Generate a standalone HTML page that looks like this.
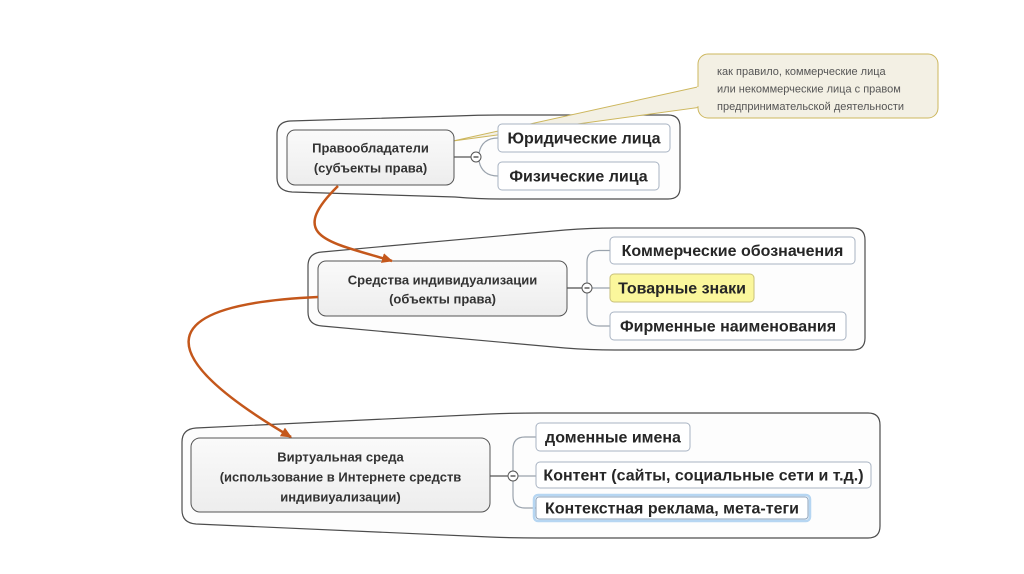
<!DOCTYPE html>
<html><head><meta charset="utf-8"><style>
html,body{margin:0;padding:0;background:#fff;}
svg{display:block;}
text{font-family:"Liberation Sans","DejaVu Sans",sans-serif;}
.pt{font-size:13px;font-weight:bold;fill:#333;}
.ct{font-size:16px;font-weight:bold;fill:#262626;}
.nt{font-size:11px;fill:#555;}
</style></head><body>
<svg width="1024" height="574" viewBox="0 0 1024 574" xmlns="http://www.w3.org/2000/svg">
<defs>
<linearGradient id="pg" x1="0" y1="0" x2="0" y2="1"><stop offset="0" stop-color="#fafafa"/><stop offset="1" stop-color="#ededed"/></linearGradient>
<marker id="ah" markerWidth="12" markerHeight="10" refX="10" refY="5" orient="auto" markerUnits="userSpaceOnUse"><path d="M0,0 L11,5 L0,10 Z" fill="#c4571b"/></marker>
</defs>
<rect width="1024" height="574" fill="#fff"/>

<!-- group outlines -->
<path d="M290,121 L455,116 Q478,115 500,115 L668,115 Q680,115 680,127 L680,188 Q680,199 668,199 L500,199 Q478,199 455,197 L292,192 Q277,191 277,178 L277,134 Q277,122 290,121 Z" fill="#fdfdfd" stroke="#4d4d4d" stroke-width="1.2"/>
<path d="M322,252 L565,230 Q590,228 615,228 L853,228 Q865,228 865,240 L865,338 Q865,350 853,350 L615,350 Q590,350 565,348 L322,326 Q308,325 308,312 L308,266 Q308,253 322,252 Z" fill="#fdfdfd" stroke="#4d4d4d" stroke-width="1.2"/>
<path d="M196,428 L490,414 Q515,413 540,413 L868,413 Q880,413 880,425 L880,526 Q880,538 868,538 L540,538 Q515,538 490,537 L196,524 Q182,523 182,510 L182,442 Q182,429 196,428 Z" fill="#fdfdfd" stroke="#4d4d4d" stroke-width="1.2"/>

<!-- callout wedge -->
<polygon points="453,141 702,86 702,107" fill="#f3f0e4" stroke="#cdb75e" stroke-width="1"/>

<!-- connectors group 1 -->
<line x1="454" y1="157" x2="471" y2="157" stroke="#555" stroke-width="1.3"/>
<path d="M479,153 Q482,138 498,138 M479,161 Q482,176 498,176" fill="none" stroke="#9aa3ad" stroke-width="1.2"/>
<circle cx="476" cy="157" r="5" fill="#fff" stroke="#555" stroke-width="1"/>
<line x1="473.5" y1="157" x2="478.5" y2="157" stroke="#333" stroke-width="1.2"/>

<!-- connectors group 2 -->
<line x1="567" y1="288" x2="582" y2="288" stroke="#555" stroke-width="1.3"/>
<path d="M610,250.5 L599,250.5 Q587,250.5 587,262 L587,314 Q587,326 599,326 L610,326 M592,288 L610,288" fill="none" stroke="#9aa3ad" stroke-width="1.2"/>
<circle cx="587" cy="288" r="5" fill="#fff" stroke="#555" stroke-width="1"/>
<line x1="584.5" y1="288" x2="589.5" y2="288" stroke="#333" stroke-width="1.2"/>

<!-- connectors group 3 -->
<line x1="490" y1="476" x2="508" y2="476" stroke="#555" stroke-width="1.3"/>
<path d="M536,437 L525,437 Q513,437 513,449 L513,496 Q513,508 525,508 L536,508 M518,476 L536,476" fill="none" stroke="#9aa3ad" stroke-width="1.2"/>
<circle cx="513" cy="476" r="5" fill="#fff" stroke="#555" stroke-width="1"/>
<line x1="510.5" y1="476" x2="515.5" y2="476" stroke="#333" stroke-width="1.2"/>

<!-- parent boxes -->
<rect x="287" y="130" width="167" height="55" rx="8" fill="url(#pg)" stroke="#555" stroke-width="1"/>
<text class="pt" x="370.5" y="152.5" text-anchor="middle">Правообладатели</text>
<text class="pt" x="370.5" y="172.5" text-anchor="middle">(субъекты права)</text>

<rect x="318" y="261" width="249" height="55" rx="8" fill="url(#pg)" stroke="#555" stroke-width="1"/>
<text class="pt" x="442.5" y="284.5" text-anchor="middle">Средства индивидуализации</text>
<text class="pt" x="442.5" y="303.5" text-anchor="middle">(объекты права)</text>

<rect x="191" y="438" width="299" height="74" rx="9" fill="url(#pg)" stroke="#555" stroke-width="1"/>
<text class="pt" x="340.5" y="461.5" text-anchor="middle">Виртуальная среда</text>
<text class="pt" x="340.5" y="481.5" text-anchor="middle">(использование в Интернете средств</text>
<text class="pt" x="340.5" y="501.5" text-anchor="middle">индивиуализации)</text>

<!-- child boxes -->
<rect x="498" y="124" width="172" height="28" rx="4" fill="#fff" stroke="#a8b3c2" stroke-width="1"/>
<text class="ct" x="584" y="143.5" text-anchor="middle">Юридические лица</text>
<rect x="498" y="162" width="161" height="28" rx="4" fill="#fff" stroke="#a8b3c2" stroke-width="1"/>
<text class="ct" x="578.5" y="181.5" text-anchor="middle">Физические лица</text>

<rect x="610" y="237" width="245" height="27" rx="4" fill="#fff" stroke="#a8b3c2" stroke-width="1"/>
<text class="ct" x="732.5" y="256" text-anchor="middle">Коммерческие обозначения</text>
<rect x="610" y="274" width="144" height="28" rx="4" fill="#fbf79c" stroke="#c8c07a" stroke-width="1"/>
<text class="ct" x="682" y="293.5" text-anchor="middle">Товарные знаки</text>
<rect x="610" y="312" width="236" height="28" rx="4" fill="#fff" stroke="#a8b3c2" stroke-width="1"/>
<text class="ct" x="728" y="331.5" text-anchor="middle">Фирменные наименования</text>

<rect x="536" y="423" width="154" height="28" rx="4" fill="#fff" stroke="#a8b3c2" stroke-width="1"/>
<text class="ct" x="613" y="442.5" text-anchor="middle">доменные имена</text>
<rect x="536" y="462" width="335" height="26" rx="4" fill="#fff" stroke="#a8b3c2" stroke-width="1"/>
<text class="ct" x="703.5" y="480.5" text-anchor="middle">Контент (сайты, социальные сети и т.д.)</text>
<rect x="534" y="495" width="276" height="26" rx="4" fill="none" stroke="#b6d6f2" stroke-width="2.5"/>
<rect x="536" y="497" width="272" height="22" rx="3" fill="#fff" stroke="#8fa5bd" stroke-width="1"/>
<text class="ct" x="672" y="513.5" text-anchor="middle">Контекстная реклама, мета-теги</text>

<!-- callout -->
<rect x="698" y="54" width="240" height="64" rx="10" fill="#f3f0e4" stroke="#cdb75e" stroke-width="1"/>
<polygon points="697,87 704,86 704,107 697,106" fill="#f3f0e4"/>
<text class="nt" x="717" y="75">как правило, коммерческие лица</text>
<text class="nt" x="717" y="92.5">или некоммерческие лица с правом</text>
<text class="nt" x="717" y="110">предпринимательской деятельности</text>

<!-- arrows -->
<path d="M338,186 C285,238 330,242 392,261" fill="none" stroke="#c4571b" stroke-width="2.5" marker-end="url(#ah)"/>
<path d="M318,297 C140,305 160,360 291,437" fill="none" stroke="#c4571b" stroke-width="2.5" marker-end="url(#ah)"/>
</svg>
</body></html>
